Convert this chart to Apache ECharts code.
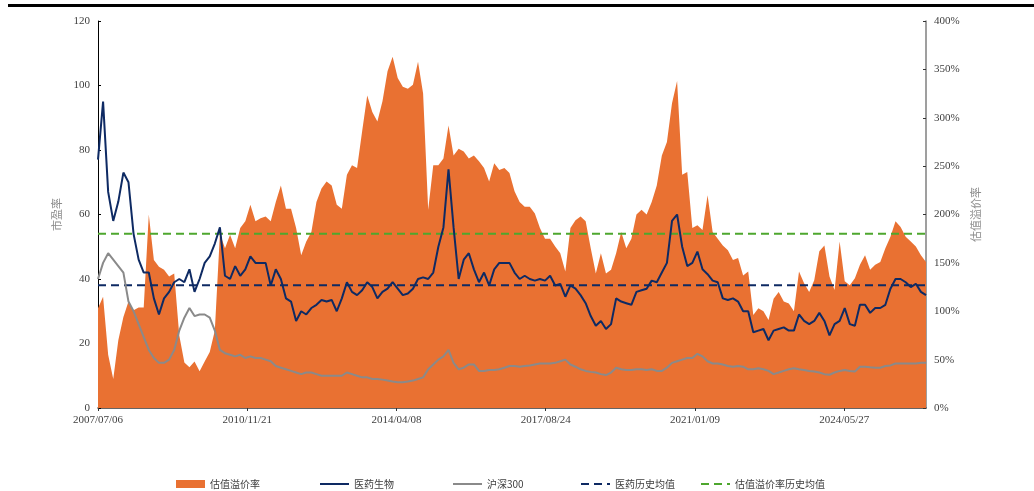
<!DOCTYPE html>
<html>
<head>
<meta charset="utf-8">
<script src="https://cdn.jsdelivr.net/npm/echarts@6/dist/echarts.min.js"></script>
<style>
  html, body { margin: 0; padding: 0; background: #fff; }
  #chart { width: 1034px; height: 491px; }
</style>
</head>
<body>
<div id="chart"></div>
<script>
// 采样：自 2007/07/06 起每 42 天一个点
const startDate = [2007, 6, 6]
const stepDays = 42
const labelEvery = 1234

// 估值溢价率 (%)
const premium = [
  103, 115, 55, 30, 70, 94, 110, 101, 104, 104, 200, 153, 146, 143, 136, 139, 75, 47, 42, 48, 38, 48, 58, 80, 180, 165, 179, 165, 186, 193, 210, 193, 196,
  198, 193, 213, 230, 206, 206, 186, 158, 172, 182, 213, 227, 234, 230, 210, 206, 241, 251, 248, 286, 323, 306, 296, 317, 348, 363, 341, 332, 330, 334, 358, 325, 205,
  251, 251, 258, 292, 261, 268, 265, 258, 261, 255, 248, 234, 253, 246, 248, 243, 224, 213, 208, 208, 201, 186, 175, 175, 167, 160, 141, 186, 194, 198, 193, 165,
  139, 160, 139, 143, 160, 182, 165, 175, 200, 205, 200, 213, 230, 261, 275, 315, 338, 241, 244, 186, 189, 184, 220, 182, 175, 168, 163, 153, 155, 137, 141, 96, 103,
  100, 91, 113, 120, 110, 108, 100, 141, 129, 120, 132, 162, 168, 136, 122, 172, 131, 127, 134, 148, 158, 143, 148, 151, 165, 177, 193, 187, 177, 172, 167, 158, 151
]

// 医药生物 市盈率
const pharmaPE = [
  77, 95, 67, 58, 64, 73, 70, 54, 46, 42, 42, 34, 29, 34, 36, 39, 40, 39, 43, 36, 40, 45, 47, 51, 56, 41, 40, 44, 41, 43, 47, 45, 45,
  45, 38, 43, 40, 34, 33, 27, 30, 29, 31, 32, 33.5, 33, 33.5, 30, 34, 39, 36, 35, 36.5, 39, 37.5, 34, 36, 37, 39, 37, 35, 35.5, 37, 40, 40.5, 40,
  42, 50, 56, 74, 56, 40, 46, 48, 43, 39, 42, 38, 43, 45, 45, 45, 42, 40, 41, 40, 39.5, 40, 39.5, 41, 38, 38.5, 34.5, 38, 37, 35, 32.5, 28.5,
  25.5, 27, 24.5, 26, 34, 33, 32.5, 32, 36, 36.5, 37, 39.5, 39, 42, 45, 58, 60, 50, 44, 45, 48.5, 43, 41.5, 39.5, 39, 34, 33.5, 34, 33, 30, 30, 23.5, 24,
  24.5, 21, 24, 24.5, 25, 24, 24, 29, 27, 26, 27, 29.5, 27, 22.5, 26, 27, 31, 26, 25.5, 32, 32, 29.5, 31, 31, 32, 37, 40, 40, 39, 37.5, 38.5, 36, 35
]

// 沪深300 市盈率
const hs300PE = [
  40, 45, 48, 46, 44, 42, 33, 30, 26, 22, 18, 15.5, 14, 14, 15, 18, 24, 28, 31, 28.5, 29, 29, 28, 24, 18, 17, 16.5, 16, 16.5, 15.5, 16, 15.5, 15.5,
  15, 14.5, 13, 12.5, 12, 11.5, 11, 10.5, 11, 11, 10.5, 10, 10, 10, 10, 10, 11, 10.5, 10, 9.5, 9.5, 9, 9, 8.8, 8.5, 8.2, 8, 8, 8.2, 8.5, 9, 9.5, 12,
  13.5, 15, 16, 18, 14, 12, 12.5, 13.5, 13.5, 11.5, 11.5, 11.8, 11.8, 12, 12.5, 13, 13, 12.8, 13, 13.2, 13.5, 13.8, 13.8, 13.8, 14, 14.5, 15, 13.5, 12.8, 12, 11.5, 11.2,
  11, 10.5, 10.2, 11, 12.5, 12, 11.8, 11.8, 12, 12, 11.8, 12, 11.5, 11.5, 12.5, 14, 14.5, 15, 15.5, 15.5, 16.8, 16, 14.5, 13.8, 13.8, 13.5, 13, 12.8, 13, 12.8, 12, 12, 12.3,
  12, 11.5, 10.5, 11, 11.5, 12, 12.3, 12, 11.8, 11.5, 11.3, 11, 10.5, 10.3, 11, 11.5, 11.8, 11.5, 11.3, 12.8, 12.8, 12.6, 12.5, 12.5, 13, 13.2, 13.8, 13.8, 13.8, 13.8, 13.8, 14, 14
]

const pharmaMean = 38.1
const premiumMean = 180

const lastDay = (premium.length - 1) * stepDays
const toPairs = arr => arr.map((v, i) => [i * stepDays, v])
const pad = n => (n < 10 ? '0' : '') + n
const dayLabel = d => {
  const t = new Date(Date.UTC(startDate[0], startDate[1], startDate[2]) + d * 86400000)
  return t.getUTCFullYear() + '/' + pad(t.getUTCMonth() + 1) + '/' + pad(t.getUTCDate())
}

const labelFont = { fontFamily: 'Liberation Serif', fontSize: 11, color: '#404040' }
const legendText = { fontFamily: 'Noto Sans CJK SC', fontSize: 10, color: '#404040' }
// 图例：每项单独摆放，线型图例去掉圆点
const legendAt = (name, left, isRect) => ({
  data: [isRect ? { name, icon: 'rect' } : name],
  left, top: 474, itemWidth: 29, itemHeight: 8, itemGap: 0,
  itemStyle: isRect ? {} : { opacity: 0 },
  textStyle: legendText
})

const myChart = echarts.init(document.getElementById('chart'))
myChart.setOption({
  animation: false,
  backgroundColor: '#fff',
  graphic: [{
    type: 'rect', left: 8, top: 4,
    shape: { width: 1026, height: 3 },
    style: { fill: '#000' }
  }],
  grid: { left: 98, right: 108, top: 21, bottom: 83 },
  legend: [
    legendAt('估值溢价率', 171, true),
    legendAt('医药生物', 314),
    legendAt('沪深300', 447),
    legendAt('医药历史均值', 575),
    legendAt('估值溢价率历史均值', 695)
  ],
  xAxis: {
    type: 'value', min: 0, max: lastDay, interval: labelEvery,
    splitLine: { show: false },
    axisLine: { lineStyle: { color: '#333', width: 1.5 } },
    axisTick: { length: 3, lineStyle: { color: '#333' } },
    axisLabel: {
      ...labelFont, margin: 7, showMaxLabel: false,
      formatter: v => (v % labelEvery === 0 ? dayLabel(v) : '')
    }
  },
  yAxis: [
    {
      type: 'value', min: 0, max: 120, interval: 20,
      name: '市盈率', nameLocation: 'middle', nameGap: 33, nameRotate: 90,
      nameTextStyle: { fontFamily: 'Noto Sans CJK SC', fontSize: 11, color: '#8c8c8c' },
      splitLine: { show: false },
      axisLine: { show: true, lineStyle: { color: '#000', width: 1 } },
      axisTick: { show: true, inside: true, length: 3, lineStyle: { color: '#000' } },
      axisLabel: { ...labelFont, margin: 8 }
    },
    {
      type: 'value', min: 0, max: 400, interval: 50, position: 'right',
      name: '估值溢价率', nameLocation: 'middle', nameGap: 34, nameRotate: 90,
      nameTextStyle: { fontFamily: 'Noto Sans CJK SC', fontSize: 11, color: '#8c8c8c' },
      splitLine: { show: false },
      axisLine: { show: true, lineStyle: { color: '#7f7f7f', width: 1.5 } },
      axisTick: { show: true, inside: true, length: 3, lineStyle: { color: '#333' } },
      axisLabel: { ...labelFont, margin: 8, formatter: '{value}%' }
    }
  ],
  series: [
    {
      name: '估值溢价率', type: 'line', yAxisIndex: 1, symbol: 'none',
      data: toPairs(premium),
      itemStyle: { color: '#E97132' },
      lineStyle: { width: 0 },
      areaStyle: { color: '#E97132', opacity: 1 }
    },
    {
      name: '医药历史均值', type: 'line', symbol: 'none',
      data: [[0, pharmaMean], [lastDay, pharmaMean]],
      itemStyle: { color: '#0E2A63' },
      lineStyle: { color: '#0E2A63', width: 2, type: [8, 5] }
    },
    {
      name: '估值溢价率历史均值', type: 'line', yAxisIndex: 1, symbol: 'none',
      data: [[0, premiumMean], [lastDay, premiumMean]],
      itemStyle: { color: '#4EA72E' },
      lineStyle: { color: '#4EA72E', width: 2, type: [8, 5] }
    },
    {
      name: '沪深300', type: 'line', symbol: 'none',
      data: toPairs(hs300PE),
      itemStyle: { color: '#8A8A8A' },
      lineStyle: { color: '#8A8A8A', width: 2 }
    },
    {
      name: '医药生物', type: 'line', symbol: 'none',
      data: toPairs(pharmaPE),
      itemStyle: { color: '#0E2A63' },
      lineStyle: { color: '#0E2A63', width: 2 }
    }
  ]
})
</script>
</body>
</html>
